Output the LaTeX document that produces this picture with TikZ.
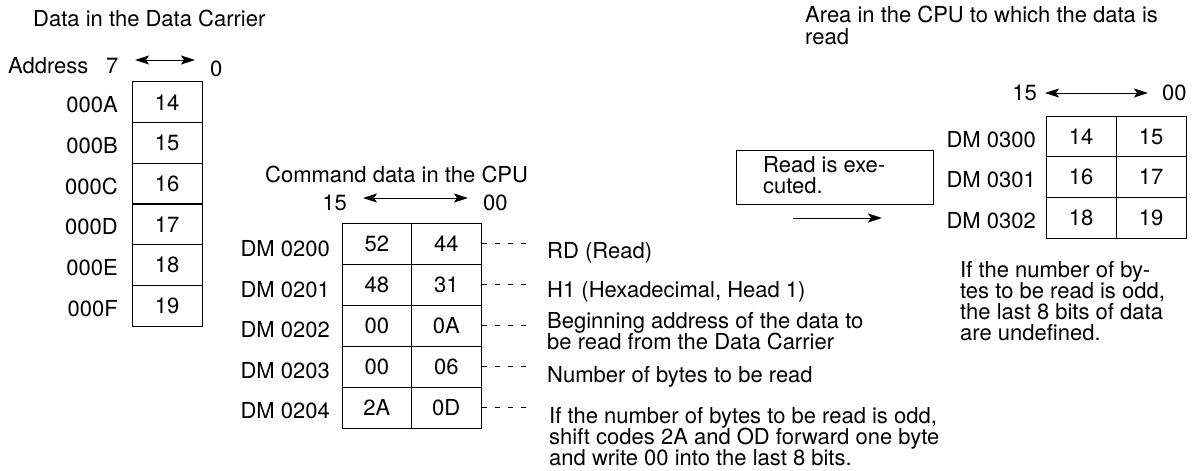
\documentclass[tikz,border=0pt]{standalone}
\usepackage{fontspec}
\setmainfont{TeX Gyre Heros}
\usetikzlibrary{arrows.meta}
\begin{document}
\begin{tikzpicture}[x=1pt,y=-1pt,
  every node/.style={font=\fontsize{22}{21}\selectfont, inner sep=0pt},
  lbl/.style={anchor=base west},
  rlbl/.style={anchor=base east},
  cell/.style={draw, line width=1pt, minimum width=70pt, minimum height=40.67pt, anchor=center},
  mcell/.style={draw, line width=1pt, minimum width=69.5pt, minimum height=41pt, anchor=center},
  dbl/.style={line width=1pt, {Stealth[length=14pt,width=9pt,inset=3pt]}-{Stealth[length=14pt,width=9pt,inset=3pt]}},
  sgl/.style={line width=1pt, -{Stealth[length=14pt,width=9pt,inset=3pt]}},
  lead/.style={line width=0.8pt, dash pattern=on 5pt off 8pt}]
\useasboundingbox (0,0) rectangle (1194,471);

% ---------- left: data in the data carrier ----------
\node[lbl] (t1) at (33,26) {Data in the Data Carrier};
\node[lbl] (addr) at (8,73) {Address};
\node[lbl] (b7) at (106,73) {7};
\node[lbl] (b0) at (210,76) {0};
\coordinate (la1) at (135,60);
\coordinate (la2) at (195,60);
\draw[dbl] (la1) -- (la2);

\node[cell] (a1) at (167,102.33) {14};
\node[cell] (a2) at (167,143.00) {15};
\node[cell] (a3) at (167,183.67) {16};
\node[cell] (a4) at (167,224.33) {17};
\node[cell] (a5) at (167,265.00) {18};
\node[cell] (a6) at (167,305.67) {19};
\node[rlbl] (al1) at (118,112) {000A};
\node[rlbl] (al2) at (118,153) {000B};
\node[rlbl] (al3) at (118,194) {000C};
\node[rlbl] (al4) at (118,234) {000D};
\node[rlbl] (al5) at (118,275) {000E};
\node[rlbl] (al6) at (118,316) {000F};

% ---------- middle: command data ----------
\node[lbl] (t2) at (265,182) {Command data in the CPU};
\node[rlbl] (m15) at (347,210) {15};
\node[lbl] (m00) at (483,210) {00};
\coordinate (ma1) at (363,198);
\coordinate (ma2) at (468,198);
\draw[dbl] (ma1) -- (ma2);

\node[mcell] (m1a) at (376.75,243.5) {52};
\node[mcell] (m1b) at (446.25,243.5) {44};
\node[mcell] (m2a) at (376.75,284.5) {48};
\node[mcell] (m2b) at (446.25,284.5) {31};
\node[mcell] (m3a) at (376.75,325.5) {00};
\node[mcell] (m3b) at (446.25,325.5) {0A};
\node[mcell] (m4a) at (376.75,366.5) {00};
\node[mcell] (m4b) at (446.25,366.5) {06};
\node[mcell] (m5a) at (376.75,407.5) {2A};
\node[mcell] (m5b) at (446.25,407.5) {0D};
\node[rlbl] (ml1) at (330,256) {DM 0200};
\node[rlbl] (ml2) at (330,297) {DM 0201};
\node[rlbl] (ml3) at (330,337) {DM 0202};
\node[rlbl] (ml4) at (330,378) {DM 0203};
\node[rlbl] (ml5) at (330,418) {DM 0204};

\coordinate (d1) at (532,243.5);
\coordinate (d2) at (532,284.5);
\coordinate (d3) at (532,325.5);
\coordinate (d4) at (532,366.5);
\coordinate (d5) at (532,407.5);
\draw[lead] (m1b.east) -- (d1);
\draw[lead] (m2b.east) -- (d2);
\draw[lead] (m3b.east) -- (d3);
\draw[lead] (m4b.east) -- (d4);
\draw[lead] (m5b.east) -- (d5);

\node[lbl] (c1) at (547,258) {RD (Read)};
\node[lbl] (c2) at (547,297) {H1 (Hexadecimal, Head 1)};
\node[lbl] (c3a) at (547,328) {Beginning address of the data to};
\node[lbl] (c3b) at (547,349) {be read from the Data Carrier};
\node[lbl] (c4) at (547,382) {Number of bytes to be read};
\node[lbl] (c5a) at (549,423) {If the number of bytes to be read is odd,};
\node[lbl] (c5b) at (549,444) {shift codes 2A and OD forward one byte};
\node[lbl] (c5c) at (549,465) {and write 00 into the last 8 bits.};

% ---------- right: area in the CPU ----------
\node[lbl] (t3a) at (805,23) {Area in the CPU to which the data is};
\node[lbl] (t3b) at (805,44) {read};
\node[rlbl] (r15) at (1037,100) {15};
\node[lbl] (r00) at (1162,100) {00};
\coordinate (ra1) at (1045,93);
\coordinate (ra2) at (1148,93);
\draw[dbl] (ra1) -- (ra2);

\node[cell] (r1a) at (1081,136.5) {14};
\node[cell] (r1b) at (1151,136.5) {15};
\node[cell] (r2a) at (1081,177.17) {16};
\node[cell] (r2b) at (1151,177.17) {17};
\node[cell] (r3a) at (1081,217.83) {18};
\node[cell] (r3b) at (1151,217.83) {19};
\node[rlbl] (rl1) at (1036,147) {DM 0300};
\node[rlbl] (rl2) at (1036,187) {DM 0301};
\node[rlbl] (rl3) at (1036,228) {DM 0302};

\node[draw, line width=1pt, minimum width=197pt, minimum height=54pt] (exec) at (834.5,177) {};
\node[lbl] (e1) at (763,172) {Read is exe-};
\node[lbl] (e2) at (763,193) {cuted.};
\coordinate (xa1) at (793,218);
\coordinate (xa2) at (882,218);
\draw[sgl] (xa1) -- (xa2);

\node[lbl] (n1) at (960,277) {If the number of by-};
\node[lbl] (n2) at (960,298) {tes to be read is odd,};
\node[lbl] (n3) at (960,319) {the last 8 bits of data};
\node[lbl] (n4) at (960,340) {are undefined.};
\end{tikzpicture}
\end{document}
